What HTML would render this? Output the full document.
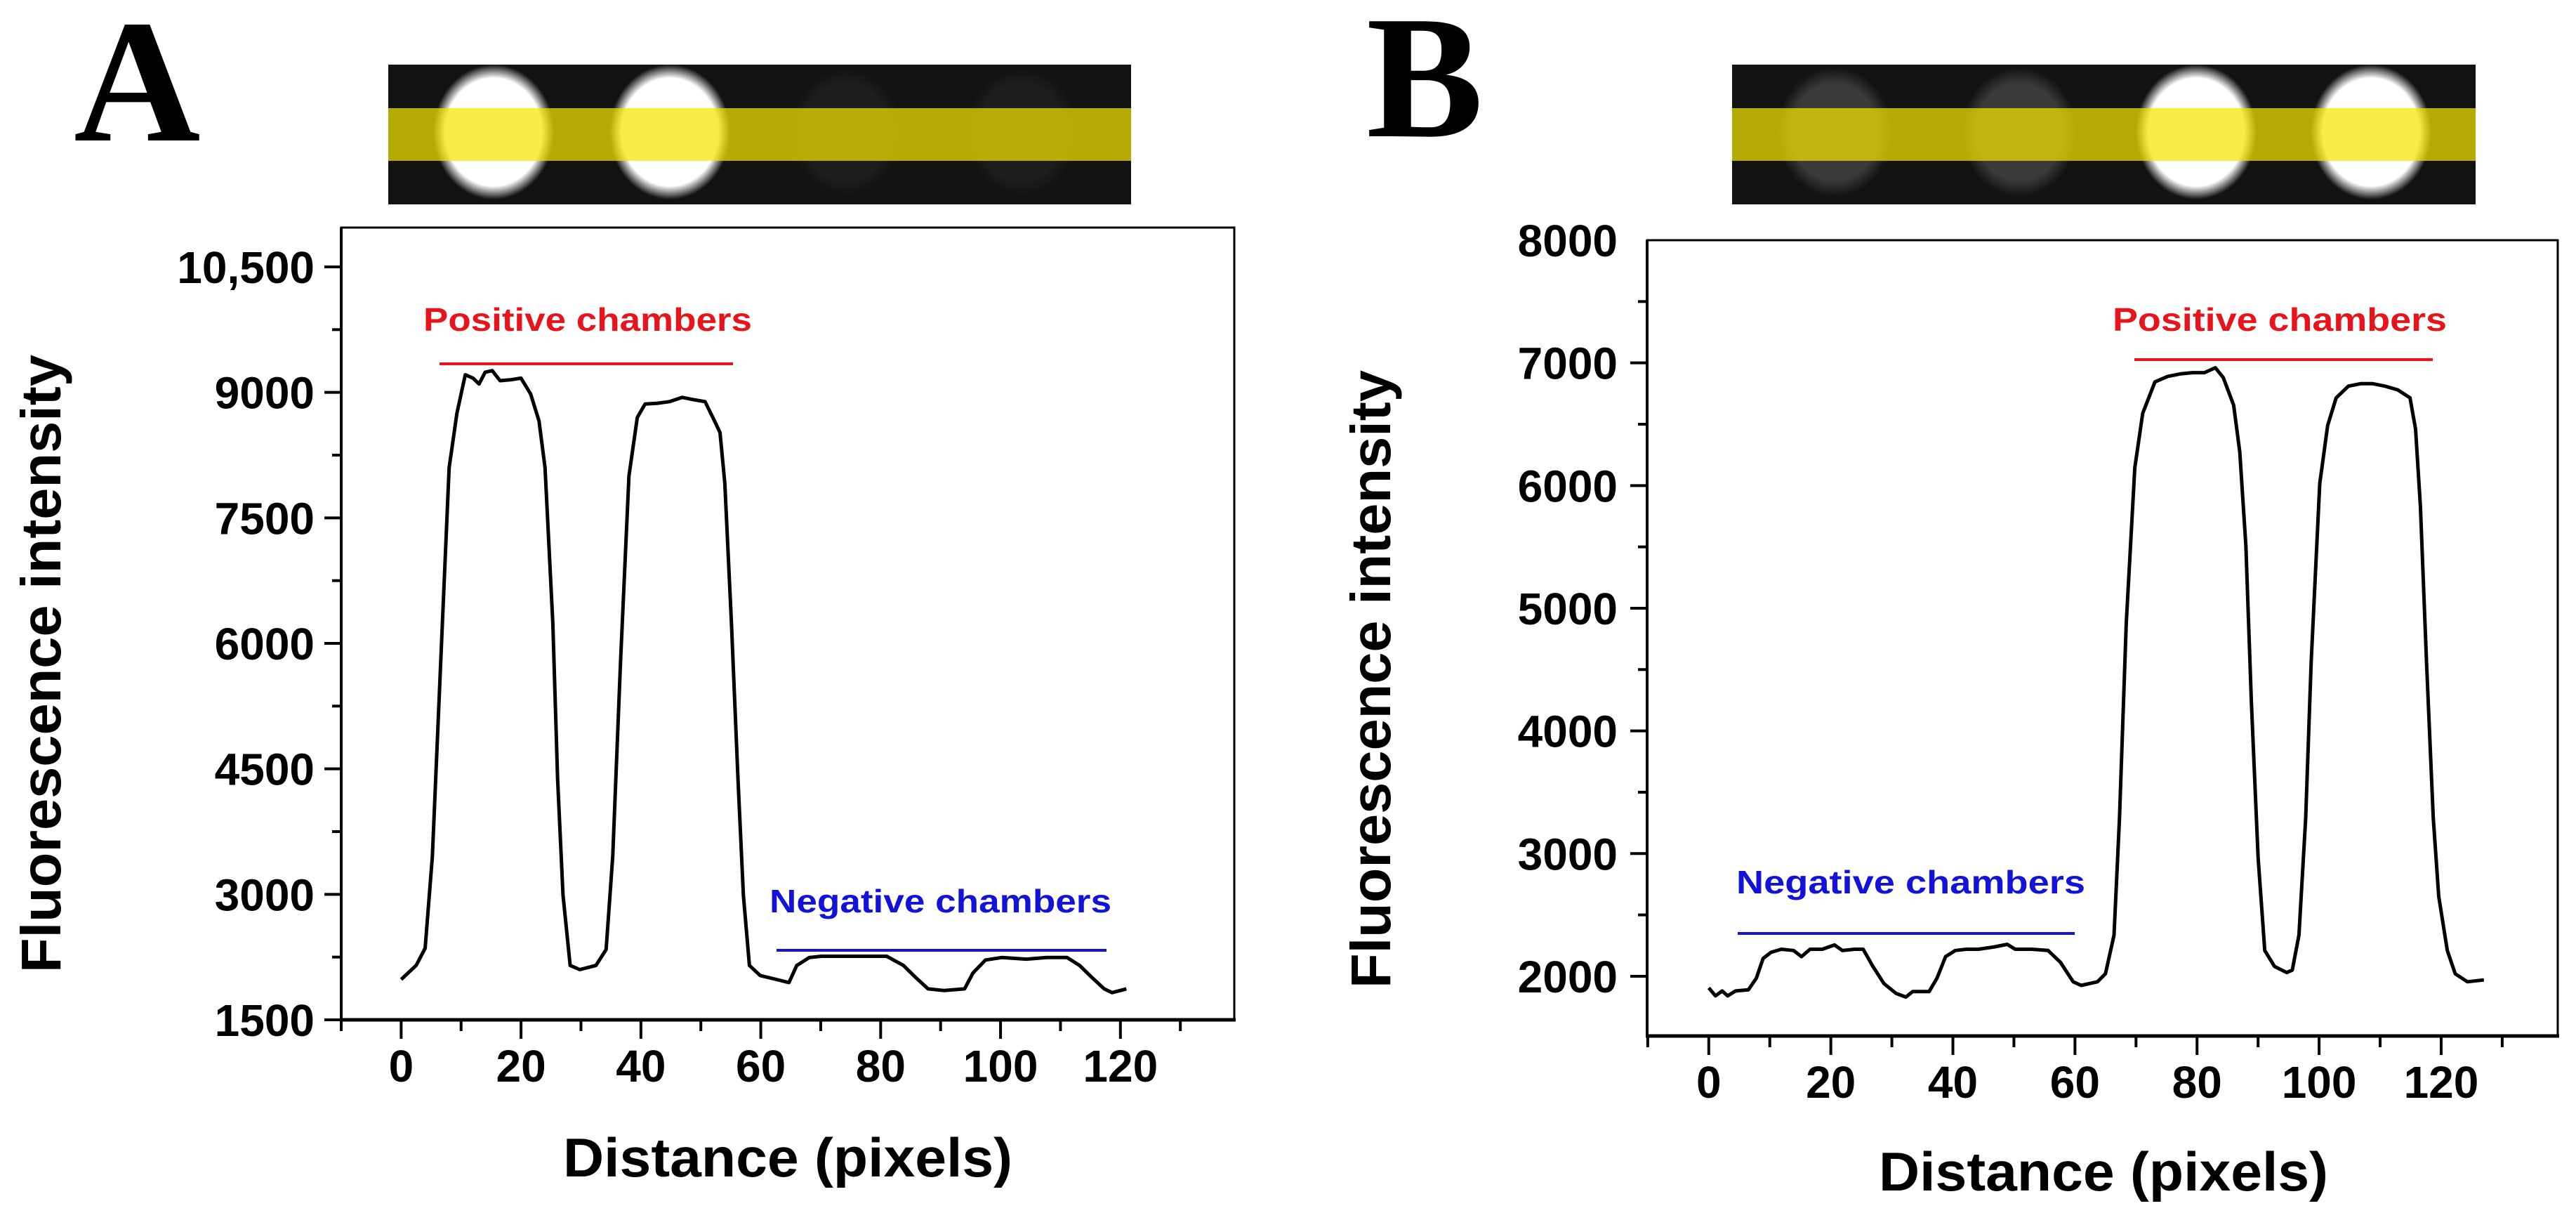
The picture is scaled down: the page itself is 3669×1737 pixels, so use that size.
<!DOCTYPE html>
<html><head><meta charset="utf-8"><style>
html,body{margin:0;padding:0;background:#fff;width:3669px;height:1737px;overflow:hidden}
svg{display:block}
text{font-family:"Liberation Sans",Arial,sans-serif;font-weight:bold}
</style></head><body>
<svg id="fig" width="3669" height="1737" viewBox="0 0 3669 1737" xmlns="http://www.w3.org/2000/svg">
<defs>
<radialGradient id="spot" cx="0.5" cy="0.5" r="0.5"><stop offset="0.8" stop-color="#fff"/><stop offset="1" stop-color="#fff" stop-opacity="0"/></radialGradient>
<radialGradient id="dim" cx="0.5" cy="0.5" r="0.5"><stop offset="0.75" stop-color="#3a3a3a"/><stop offset="1" stop-color="#3a3a3a" stop-opacity="0"/></radialGradient>
</defs>
<text x="105" y="200" style="font-family:'Liberation Serif',serif;font-weight:bold;font-size:250px">A</text>
<text x="1946" y="194" style="font-family:'Liberation Serif',serif;font-weight:bold;font-size:250px">B</text>
<g id="stripA">
<rect x="553" y="92" width="1058" height="199" fill="#121212"/>
<ellipse cx="703" cy="188" rx="86" ry="96" fill="url(#spot)"/>
<ellipse cx="954" cy="188" rx="86" ry="96" fill="url(#spot)"/>
<ellipse cx="1205" cy="188" rx="80" ry="90" fill="url(#dim)" opacity="0.3"/>
<ellipse cx="1455" cy="188" rx="80" ry="90" fill="url(#dim)" opacity="0.3"/>
<rect x="553" y="154" width="1058" height="75" fill="#f5e600" opacity="0.72"/>
</g>
<g id="stripB">
<rect x="2467" y="92" width="1059" height="199" fill="#121212"/>
<ellipse cx="2613" cy="188" rx="82" ry="92" fill="url(#dim)"/>
<ellipse cx="2876" cy="188" rx="82" ry="92" fill="url(#dim)"/>
<ellipse cx="3128" cy="188" rx="86" ry="96" fill="url(#spot)"/>
<ellipse cx="3377" cy="188" rx="86" ry="96" fill="url(#spot)"/>
<rect x="2467" y="154" width="1059" height="75" fill="#f5e600" opacity="0.72"/>
</g>
<g id="chartA"></g>
<g id="chartB"></g>
</svg>
<script>
// Panel A data
const xA = [0,2.5,4,5.2,6.6,8,9.3,10.7,12,13,14,15.2,16.5,18.2,20,21.6,23,24,25.3,26.1,27,28.2,29.8,32.5,34.2,35.3,36.6,38,39.4,40.7,42.8,44.8,46.9,49,50.7,52,53.2,54,55.1,56.2,57.1,58.1,59.9,62.6,64.7,66,68.1,70.1,75.6,81,83.8,85.8,87.9,90.6,94,95.4,97.5,100.2,104.3,107.7,111.1,113.2,115.2,117.3,118.6,121];
const yA = [1983,2150,2355,3450,5775,8100,8750,9210,9170,9100,9240,9260,9140,9150,9170,8980,8660,8100,6240,4380,2990,2150,2100,2150,2340,3450,5775,8000,8700,8860,8870,8890,8940,8910,8890,8700,8520,7910,6240,4380,2990,2150,2030,1983,1945,2150,2245,2260,2260,2260,2150,2010,1870,1850,1870,2060,2215,2245,2225,2245,2245,2150,2010,1870,1825,1870];
const xTicksA = [0,20,40,60,80,100,120];
const yTicksA = [1500,3000,4500,6000,7500,9000,10500];
const yTickLabelsA = ["1500","3000","4500","6000","7500","9000","10,500"];
// Panel B data
const xB = [0,1.1,2.2,3.1,4.4,6.5,7.8,8.9,10.2,11.9,13.9,15.2,16.6,18.6,20.6,21.9,23.9,25.3,26.9,28.7,30.7,32.3,33.4,36.1,37.4,38.8,40.4,42.2,44.2,46.9,48.9,50.2,52.9,55.6,57.6,59.7,61,63.7,65,66.4,67.3,68.4,69.8,71.1,73.1,75.2,77.2,79.2,81.2,83,84.3,86,87,88,88.9,90,91.1,92.7,94.7,95.6,96.7,97.8,98.7,100.1,101.4,102.8,104.8,106.8,108.8,110.8,112.9,114.9,115.8,116.6,117.6,118.7,119.6,121,122.3,124.3,127];
const yB = [1905,1840,1880,1840,1880,1890,1985,2145,2195,2220,2210,2160,2220,2220,2255,2210,2220,2220,2080,1940,1860,1830,1875,1875,1985,2160,2210,2220,2220,2240,2260,2220,2220,2210,2115,1955,1925,1955,2020,2335,3290,4875,6145,6590,6845,6890,6910,6920,6920,6960,6880,6655,6275,5510,4240,2970,2210,2080,2030,2050,2335,3290,4560,6015,6490,6715,6810,6830,6830,6810,6780,6715,6460,5830,4560,3290,2650,2210,2020,1955,1970];
const xTicksB = [0,20,40,60,80,100,120];
const yTicksB = [2000,3000,4000,5000,6000,7000,8000];
const yTickLabelsB = ["2000","3000","4000","5000","6000","7000","8000"];

const NS = "http://www.w3.org/2000/svg";
function mk(parent, tag, attrs, txt){
  const e = document.createElementNS(NS, tag);
  for (const k in attrs) e.setAttribute(k, attrs[k]);
  if (txt !== undefined) e.textContent = txt;
  parent.appendChild(e);
  return e;
}

function drawChart(cfg){
  const g = document.getElementById(cfg.id);
  const sx = v => cfg.L + (v - cfg.x0) / (cfg.x1 - cfg.x0) * (cfg.R - cfg.L);
  const sy = v => cfg.B - (v - cfg.y0) / (cfg.y1 - cfg.y0) * (cfg.B - cfg.T);
  const box = mk(g, 'rect', {x:cfg.L, y:cfg.T, width:cfg.R-cfg.L, height:cfg.B-cfg.T, fill:'none', stroke:'#000', 'stroke-width':3});
  
  
  const xa = mk(g, 'line', {x1:cfg.L-2, y1:cfg.B, x2:cfg.R+2, y2:cfg.B, stroke:'#000', 'stroke-width':5});
  
  
  const ya = mk(g, 'line', {x1:cfg.L, y1:cfg.T, x2:cfg.L, y2:cfg.B+2, stroke:'#000', 'stroke-width':4});
  
  
  for (let v = -10; v <= 130; v += 10){
    const major = cfg.xTicks.indexOf(v) >= 0;
    const t = mk(g, 'line', {x1:sx(v), y1:cfg.B, x2:sx(v), y2:cfg.B + (major?27:16), stroke:'#000', 'stroke-width':4});
    
    
  }
  cfg.xTicks.forEach(v => {
    const t = mk(g, 'text', {x:sx(v), y:cfg.xLabY, 'text-anchor':'middle', 'font-size':64}, String(v));
    
    
  });
  const step = cfg.yTicks[1] - cfg.yTicks[0];
  for (let v = cfg.yTicks[0]; v < cfg.y1; v += step/2){
    if (v < cfg.y0) continue;
    const major = cfg.yTicks.indexOf(v) >= 0;
    const t = mk(g, 'line', {x1:cfg.L - (major?24:13), y1:sy(v), x2:cfg.L, y2:sy(v), stroke:'#000', 'stroke-width':4});
    
    
  }
  cfg.yTicks.forEach((v,i) => {
    const t = mk(g, 'text', {x:cfg.yLabR, y:sy(v)+23, 'text-anchor':'end', 'font-size':64}, cfg.yLabels[i]);
    
    
  });
  const d = cfg.xs.map((v,i) => (i?'L':'M') + sx(v).toFixed(1) + ',' + sy(cfg.ys[i]).toFixed(1)).join(' ');
  const line = mk(g, 'path', {d:d, fill:'none', stroke:'#000', 'stroke-width':5, 'stroke-linejoin':'round'});
  
  
  const yt = mk(g, 'text', {x:0, y:0, transform:'translate(' + cfg.ytX + ',' + cfg.ytY + ') rotate(-90)', 'text-anchor':'middle', 'font-size':80, textLength:880, lengthAdjust:'spacingAndGlyphs'}, 'Fluorescence intensity');
  
  
  const xt = mk(g, 'text', {x:cfg.xtX, y:cfg.xtY, 'text-anchor':'middle', 'font-size':78, textLength:640, lengthAdjust:'spacingAndGlyphs'}, 'Distance (pixels)');
  
  
  cfg.ann.forEach(a => {
    const t = mk(g, 'text', {x:a.tx, y:a.ty, 'font-size':46, fill:a.c, textLength:a.tw, lengthAdjust:'spacingAndGlyphs'}, a.label);
    
    
    const l = mk(g, 'line', {x1:a.x1, y1:a.ly, x2:a.x2, y2:a.ly, stroke:a.c, 'stroke-width':4});
    
    
  });
}

drawChart({id:'chartA', p:'panel-a', L:486, R:1758, T:324, B:1452, x0:-10, x1:139, y0:1500, y1:10970,
  xs:xA, ys:yA, xTicks:xTicksA, yTicks:yTicksA, yLabels:yTickLabelsA, xLabY:1540, yLabR:448,
  ytX:86, ytY:945, xtX:1122, xtY:1675,
  ann:[{name:'positive-chambers-a', label:'Positive chambers', c:'#e8141c', tx:603, ty:471, tw:468, x1:626, x2:1044, ly:518},
       {name:'negative-chambers-a', label:'Negative chambers', c:'#1212d8', tx:1096, ty:1299, tw:487, x1:1106, x2:1576, ly:1353}]});
drawChart({id:'chartB', p:'panel-b', L:2346, R:3643, T:342, B:1475, x0:-10.1, x1:139.1, y0:1513, y1:8000,
  xs:xB, ys:yB, xTicks:xTicksB, yTicks:yTicksB, yLabels:yTickLabelsB, xLabY:1563, yLabR:2304,
  ytX:1980, ytY:967, xtX:2996, xtY:1695,
  ann:[{name:'positive-chambers-b', label:'Positive chambers', c:'#e8141c', tx:3009, ty:471, tw:476, x1:3040, x2:3465, ly:512},
       {name:'negative-chambers-b', label:'Negative chambers', c:'#1212d8', tx:2473, ty:1272, tw:497, x1:2475, x2:2955, ly:1329}]});
</script>
</body></html>
